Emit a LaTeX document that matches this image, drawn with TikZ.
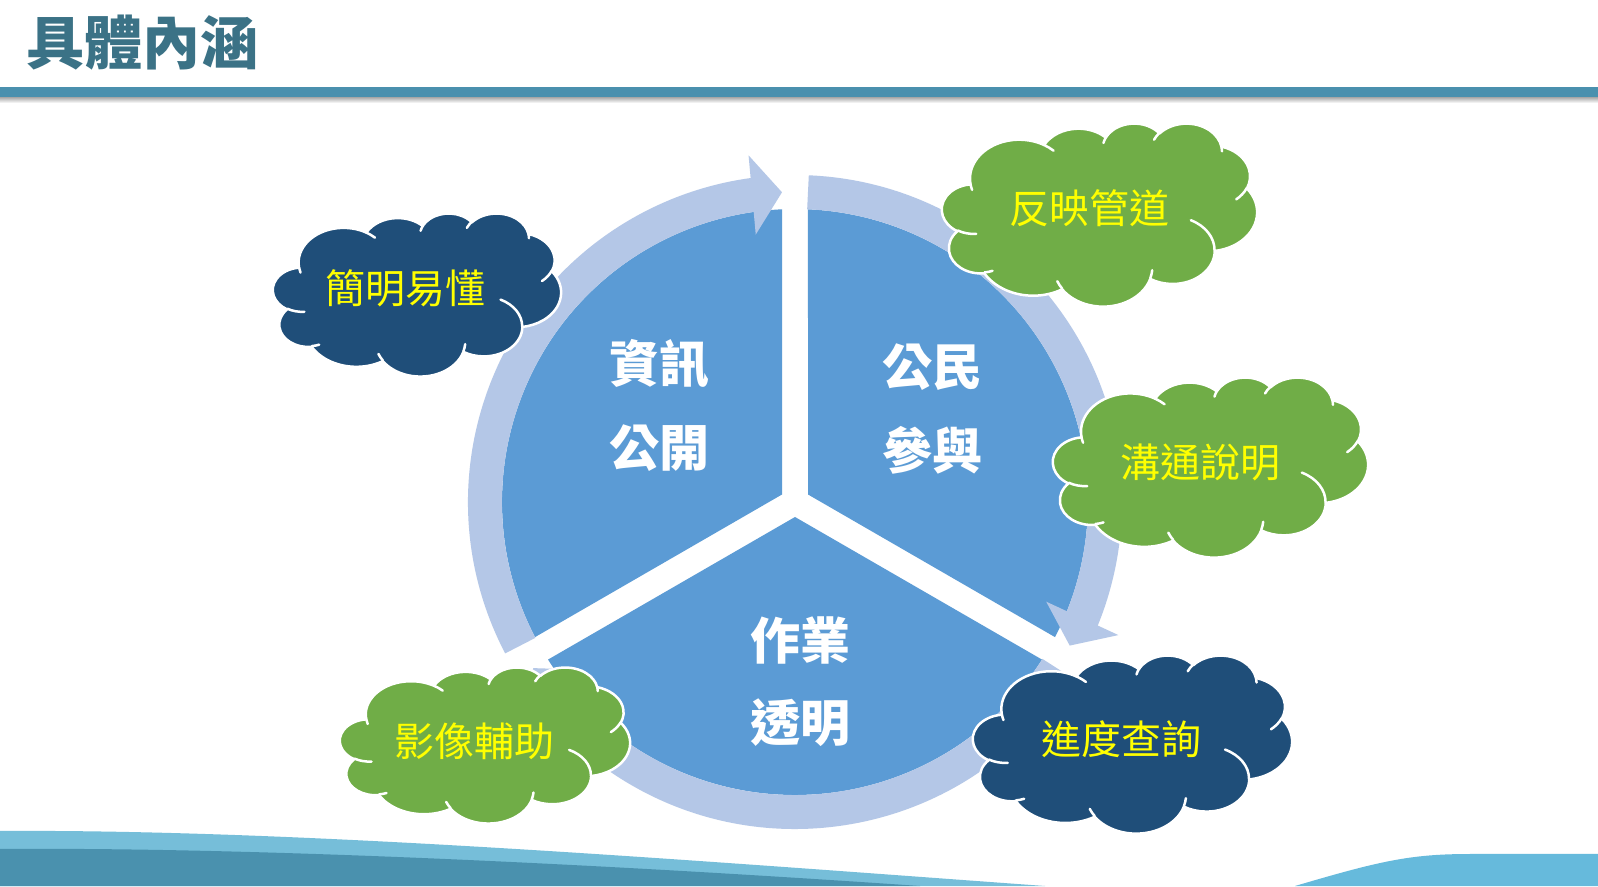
\documentclass[tikz,border=0pt]{standalone}
\usepackage{fontspec}
\newfontfamily\cjk{Noto Sans CJK TC}
\usetikzlibrary{arrows.meta,bending,calc}
\definecolor{pieblue}{HTML}{5B9BD5}
\definecolor{bandblue}{HTML}{B4C7E7}
\definecolor{navy}{HTML}{1F4E79}
\definecolor{cgreen}{HTML}{70AD47}
\definecolor{titlecol}{HTML}{3B7286}
\definecolor{barcol}{HTML}{4A90AE}
\definecolor{wavelight}{HTML}{76BED9}
\definecolor{wavedark}{HTML}{4A91AE}
\definecolor{waveright}{HTML}{66BADC}
\definecolor{ctext}{HTML}{FFFF00}
\tikzset{
  carc/.style n args={4}{insert path={arc[x radius=#1, y radius=#2,
     start angle={atan2((#1)*sin(#3),(#2)*cos(#3))},
     delta angle={mod(atan2((#1)*sin((#3)+(#4)),(#2)*cos((#3)+(#4)))-atan2((#1)*sin(#3),(#2)*cos(#3))+720,360)}]}},
  cloudline/.style={draw=white, line width=2.5pt, line join=round},
  band/.style={draw=bandblue, line width=34pt, -{Triangle[width=78pt,length=30pt]}},
  pietext/.style={text=white, inner sep=0pt, font=\cjk\bfseries\fontsize{50}{60}\selectfont},
  cloudtext/.style={text=ctext, inner sep=0pt, font=\cjk\fontsize{40}{48}\selectfont}
}
\newcommand\mycloud[5]{%
 \begin{scope}[shift={(#1,#2)},xscale=#3/432,yscale=-#4/432]
  \path[fill=#5, cloudline] (39,143.7)
    [carc={67.53}{91.90}{-190.4875}{123.7805}]
    [carc={53.33}{72.67}{-144.1024}{89.9452}]
    [carc={43.65}{59.45}{-145.8079}{99.7230}]
    [carc={48.57}{65.95}{-130.9861}{117.2417}]
    [carc={53.33}{72.73}{-78.7089}{109.0269}]
    [carc={67.75}{92.20}{-46.2673}{130.2690}]
    [carc={57.85}{78.67}{0.6250}{114.0333}]
    [carc={67.52}{92.15}{22.4516}{115.1726}]
    [carc={77.20}{105.43}{66.2426}{75.7110}]
    [carc={43.60}{59.18}{-274.9421}{146.7356}]
    [carc={43.45}{59.45}{-246.8285}{152.5189}] -- cycle;
  \path[cloudline, line cap=round]
    (46.93,261.77) [carc={43.45}{59.45}{86.742}{26.4295}]
    (69.28,348.99) [carc={43.60}{59.18}{73.6105}{11.4475}]
    (164.78,390.90) [carc={67.52}{92.15}{137.6242}{14.0811}]
    (288.27,347.51) [carc={67.52}{92.15}{6.4533}{15.9984}]
    (341.29,229.54) [carc={57.85}{78.67}{-70.2924}{70.9174}]
    (417.98,153.54) [carc={53.33}{72.73}{30.3180}{27.7515}]
    (383.24,54.26) [carc={48.57}{65.95}{-13.7443}{14.8589}]
    (290.78,39.52) [carc={48.57}{65.95}{-149.1815}{18.1954}]
    (221.41,47.20) [carc={43.65}{59.45}{-163.4943}{17.6864}]
    (140.00,51.92) [carc={67.53}{91.90}{-66.7070}{12.3194}]
    (41.27,157.89) [carc={67.53}{91.90}{157.6544}{11.8582}];
 \end{scope}}
\begin{document}
\begin{tikzpicture}[x=1pt,y=1pt]
\useasboundingbox (0,0) rectangle (1598,886);
\fill[white] (0,0) rectangle (1598,886);
% bottom waves
\fill[wavelight] (0,0) -- (0,55) .. controls (300,57) and (700,25) .. (1045,0) -- cycle;
\fill[wavedark] (0,0) -- (0,37) .. controls (250,39) and (600,22) .. (920,0) -- cycle;
\fill[waveright] (1295,0) .. controls (1380,25) and (1410,32) .. (1470,32) -- (1598,32) -- (1598,0) -- cycle;
% title and bar
\node[text=titlecol, inner sep=0pt, font=\cjk\bfseries\fontsize{58}{60}\selectfont] (title) at (143,843) {具體內涵};
\shade[top color=gray!70, bottom color=white] (0,783) rectangle (1598,789);
\fill[barcol] (0,789) rectangle (1598,799);
% pie
\coordinate (C) at (795,384);
\fill[pieblue] ($(C)+(-13,7.5)$) -- ($(C)+(92.54:293)$) arc[start angle=92.54, end angle=207.46, radius=293] -- cycle;
\fill[pieblue] ($(C)+(13,7.5)$) -- ($(C)+(87.46:293)$) arc[start angle=87.46, end angle=-27.46, radius=293] -- cycle;
\fill[pieblue] ($(C)+(0,-15)$) -- ($(C)+(212.54:293)$) arc[start angle=212.54, end angle=327.46, radius=293] -- cycle;
% bands
\draw[band] ($(C)+(207.6:310)$) arc[start angle=207.6, end angle=92.4, radius=310];
\draw[band] ($(C)+(87.6:310)$) arc[start angle=87.6, end angle=-27.6, radius=310];
\draw[band] ($(C)+(-32.4:310)$) arc[start angle=-32.4, end angle=-147.6, radius=310];
% pie texts
\node[pietext] (ta1) at (659,522) {資訊};
\node[pietext] (ta2) at (659,438) {公開};
\node[pietext] (tb1) at (932,519) {公民};
\node[pietext] (tb2) at (932,436) {參與};
\node[pietext] (tc1) at (800,246) {作業};
\node[pietext] (tc2) at (800,163) {透明};
% clouds
\mycloud{273}{673}{288}{163}{navy}
\mycloud{942}{763}{315}{183}{cgreen}
\mycloud{1053}{509}{315}{180}{cgreen}
\mycloud{340}{219}{290}{156}{cgreen}
\mycloud{973}{231}{319}{178}{navy}
\node[cloudtext] (k1) at (405,598) {簡明易懂};
\node[cloudtext] (k2) at (1089,678) {反映管道};
\node[cloudtext] (k3) at (1200,424) {溝通說明};
\node[cloudtext] (k4) at (474,145) {影像輔助};
\node[cloudtext] (k5) at (1121,147) {進度查詢};
\end{tikzpicture}
\end{document}
